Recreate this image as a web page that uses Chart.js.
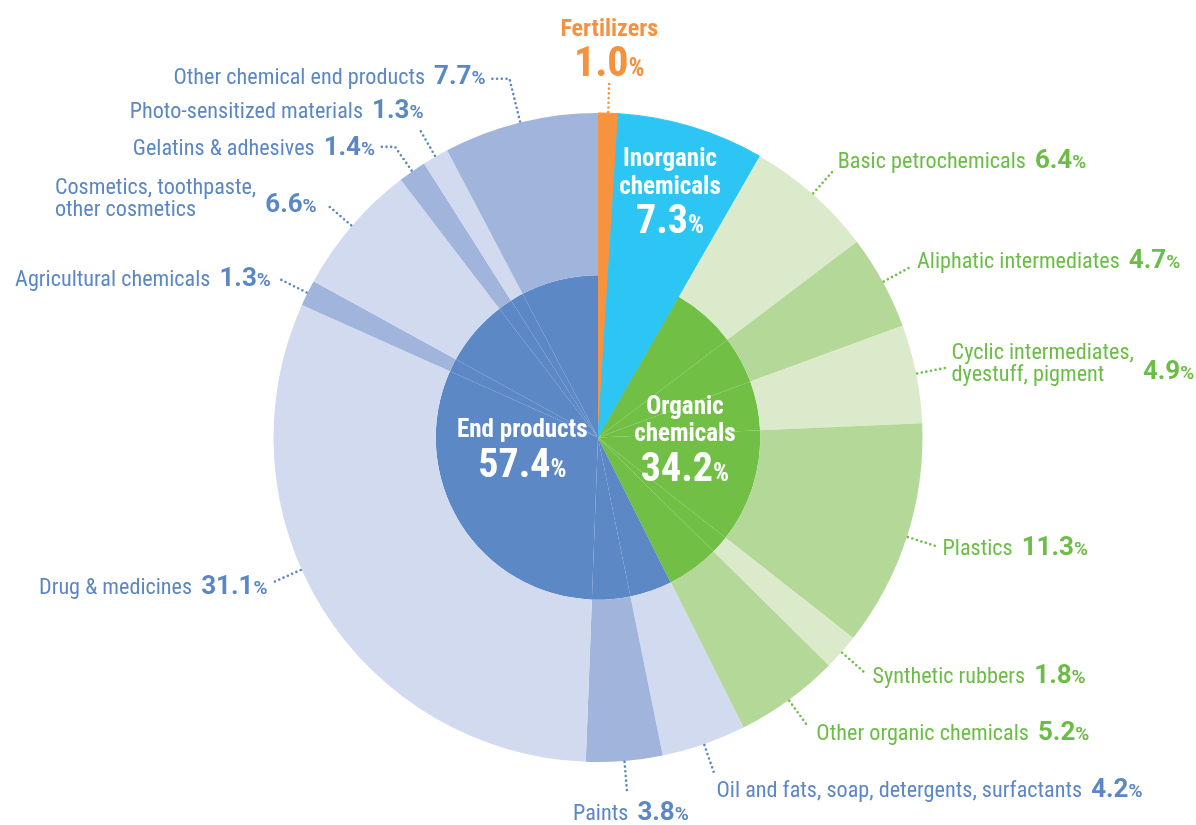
<!DOCTYPE html>
<html><head><meta charset="utf-8">
<script src="https://cdn.jsdelivr.net/npm/chart.js@4"></script>
<style>html,body{margin:0;padding:0;background:#fff}canvas{display:block}</style>
</head><body>
<canvas id="c" width="1196" height="825" style="width:1196px;height:825px"></canvas>
<script>
// ---- data ----
const categories = ['Fertilizers','Inorganic chemicals','Basic petrochemicals','Aliphatic intermediates',
  'Cyclic intermediates,\ndyestuff, pigment','Plastics','Synthetic rubbers','Other organic chemicals',
  'Oil and fats, soap, detergents, surfactants','Paints','Drug & medicines','Agricultural chemicals',
  'Cosmetics, toothpaste,\nother cosmetics','Gelatins & adhesives','Photo-sensitized materials','Other chemical end products'];
const values = [1.0,7.3,6.4,4.7,4.9,11.3,1.8,5.2,4.2,3.8,31.1,1.3,6.6,1.4,1.3,7.7];
const groups = ['Fertilizers','Inorganic\nchemicals','Organic\nchemicals','End products'];
const groupValues = [1.0,7.3,34.2,57.4];
const groupOf = [0,1,2,2,2,2,2,2,3,3,3,3,3,3,3,3];

// ---- styles ----
const groupColor = ['#F7933F','#2DC5F3','#72BF45','#5C88C5'];
const outerColor = ['#F7933F','#2DC5F3',
  '#DAEACB','#B3D898','#DAEACB','#B3D898','#DAEACB','#B3D898',
  '#D1DAEE','#A1B5DC','#D1DAEE','#A1B5DC','#D1DAEE','#A1B5DC','#D1DAEE','#A1B5DC'];
const textColor = ['#F6923F','#FFFFFF','#6CBD45','#5B87C6'];
const CF = '"Roboto Condensed", Roboto, sans-serif';
const NF = 'Roboto, sans-serif';
const F = (w,s) => `${w} ${s}px ${CF}`;
const N = (w,s) => `${w} ${s}px ${NF}`;
const NAME = 22.2;

// label layout per outer segment (leader length, horizontal run, text offsets)
const layout = {
  2:{side:'R', len:32, dx:4, dy:-2},
  3:{side:'R', len:31, dx:7, dy:1},
  4:{side:'R', len:30, dx:6, dy:11, lineDy:[-9,13]},
  5:{side:'R', len:30, dx:7, dy:9},
  6:{side:'R', len:32, dx:7, dy:10},
  7:{side:'R', len:30, dx:10, dy:16},
  8:{side:'R', len:32, dx:2, dy:23},
  9:{side:'C', len:30, dx:4, dy:29},
  10:{side:'L', at:0.57, len:33, dx:-4, dy:11},
  11:{side:'L', len:32, dx:-8, dy:7},
  12:{side:'L', len:32, dx:-11, dy:7, lineDy:[-11,11]},
  13:{side:'L', len:30, hx:-15, dx:-5, dy:8},
  14:{side:'L', len:32, dx:4, dy:-11},
  15:{side:'L', len:45, hx:-18, dx:-6, dy:5}
};

function fmt(v){return v.toFixed(1);}
function setF(ctx,p){ctx.fontStretch = p.n ? 'normal' : 'condensed'; ctx.font = p.f;}
function partsWidth(ctx, parts){
  let w=0; parts.forEach(p=>{setF(ctx,p); w+=ctx.measureText(p.t).width + (p.g||0);}); return w;
}
function drawParts(ctx, parts, x, y, align){
  const w = partsWidth(ctx, parts);
  let sx = align==='left'? x : align==='right'? x-w : x-w/2;
  parts.forEach(p=>{setF(ctx,p); ctx.fillStyle=p.c; ctx.fillText(p.t, sx, y); sx += ctx.measureText(p.t).width + (p.g||0);});
}
function dotted(ctx, pts, color){
  ctx.save();
  ctx.strokeStyle=color; ctx.lineWidth=2.6; ctx.lineCap='round'; ctx.setLineDash([0,4.7]);
  ctx.beginPath(); ctx.moveTo(pts[0][0],pts[0][1]);
  for(let i=1;i<pts.length;i++) ctx.lineTo(pts[i][0],pts[i][1]);
  ctx.stroke(); ctx.restore();
}

const labelPlugin = {
  id:'labels',
  afterDraw(chart){
    const ctx = chart.ctx;
    ctx.save();
    ctx.textBaseline='alphabetic';
    const outer = chart.getDatasetMeta(0).data;
    const inner = chart.getDatasetMeta(1).data;
    const cx = outer[0].x, cy = outer[0].y, R = outer[0].outerRadius;
    const pt = (a,r)=>[cx+r*Math.cos(a), cy+r*Math.sin(a)];

    categories.forEach((name,i)=>{
      const L = layout[i]; if(!L) return;
      const arc = outer[i];
      const a = arc.startAngle + (arc.endAngle-arc.startAngle)*(L.at!==undefined?L.at:0.5);
      const col = textColor[groupOf[i]];
      const p0 = pt(a,R+1), E = pt(a,R+L.len);
      const H = [E[0]+(L.hx||0), E[1]];
      dotted(ctx, L.hx? [p0,E,H] : [p0,E], col);
      const tx = H[0]+L.dx, ty = H[1]+L.dy;
      const num = [{t:fmt(values[i]), f:N('bold',26), n:1, c:col},{t:'%', f:N('bold',19), n:1, c:col}];
      const lines = name.split('\n');
      if(lines.length===1){
        const parts = [{t:name, f:F('normal',NAME), c:col, g:9}].concat(num);
        drawParts(ctx, parts, tx, ty, L.side==='R'?'left':L.side==='L'?'right':'center');
      } else {
        ctx.fontStretch='condensed'; ctx.font=F('normal',NAME);
        const lw = Math.max(...lines.map(s=>ctx.measureText(s).width));
        const nw = partsWidth(ctx, num);
        let lx, nx;
        if(L.side==='R'){ lx = tx; nx = tx+lw+9; }
        else { nx = tx-nw; lx = nx-9-lw; }
        lines.forEach((s,k)=>drawParts(ctx,[{t:s, f:F('normal',NAME), c:col}], lx, H[1]+L.lineDy[k], 'left'));
        drawParts(ctx, num, nx, ty, 'left');
      }
    });

    // Fertilizers (top)
    {
      const arc = outer[0];
      const a = (arc.startAngle+arc.endAngle)/2;
      const p0 = pt(a,R+1), E = pt(a,R+33);
      const col = textColor[0];
      dotted(ctx,[p0,E],col);
      drawParts(ctx,[{t:groups[0], f:F('bold',24), c:col}], E[0], E[1]-44, 'center');
      drawParts(ctx,[{t:fmt(groupValues[0]), f:F('bold',42), c:col},{t:'%', f:F('bold',25), c:col}], E[0], E[1]-4, 'center');
    }
    // Inorganic (inside, outer part of the sector)
    {
      const arc = outer[1];
      const a = (arc.startAngle+arc.endAngle)/2;
      const C = pt(a, R*0.77);
      const lines = groups[1].split('\n');
      drawParts(ctx,[{t:lines[0], f:F('bold',25), c:'#fff'}], C[0], C[1]-32, 'center');
      drawParts(ctx,[{t:lines[1], f:F('bold',25), c:'#fff'}], C[0], C[1]-4, 'center');
      drawParts(ctx,[{t:fmt(groupValues[1]), f:F('bold',40), c:'#fff'},{t:'%', f:F('bold',25), c:'#fff'}], C[0], C[1]+35, 'center');
    }
    // Organic & End products (inner disc)
    [[2,0.268,[-26,1],41,0],[3,0.246,[-19],21,2]].forEach(([g,rf,ldy,ndy,dx])=>{
      const idx = groupOf.map((v,k)=>v===g?k:-1).filter(k=>k>=0);
      const a = (inner[idx[0]].startAngle + inner[idx[idx.length-1]].endAngle)/2;
      const C = pt(a, R*rf);
      const lines = groups[g].split('\n');
      lines.forEach((s,k)=>drawParts(ctx,[{t:s, f:F('bold',25), c:'#fff'}], C[0]+dx, C[1]+ldy[k], 'center'));
      drawParts(ctx,[{t:fmt(groupValues[g]), f:F('bold',40), c:'#fff'},{t:'%', f:F('bold',25), c:'#fff'}], C[0]+dx, C[1]+ndy, 'center');
    });
    ctx.restore();
  }
};

const bw = values.map((v,i)=> groupOf[i]<2 ? 1 : 0);
new Chart(document.getElementById('c'), {
  type:'pie',
  data:{
    labels: categories,
    datasets:[
      {data: values, backgroundColor: outerColor, borderColor: outerColor, borderWidth: bw, weight:1},
      {data: values, backgroundColor: groupOf.map(g=>groupColor[g]), borderColor: groupOf.map(g=>groupColor[g]), borderWidth: bw, weight:1}
    ]
  },
  options:{
    responsive:false, animation:false,
    layout:{padding:{top:112,bottom:62,left:273,right:273}},
    plugins:{legend:{display:false}, tooltip:{enabled:false}}
  },
  plugins:[labelPlugin]
});
</script>
</body></html>
